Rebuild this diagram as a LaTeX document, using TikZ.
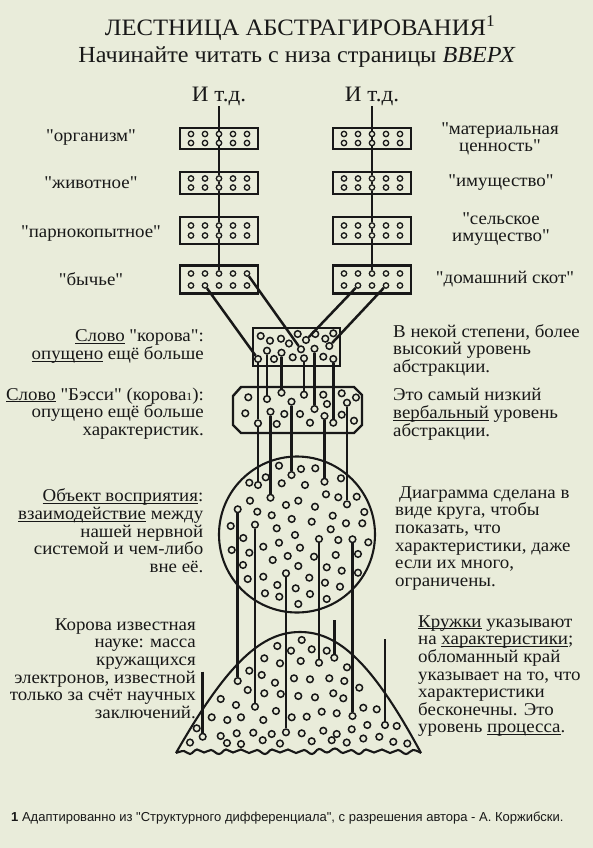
\documentclass[tikz,border=0pt]{standalone}
\usepackage{fontspec}
\setmainfont{Liberation Serif}[FakeStretch=1.05,Ligatures=TeXOff]
\newfontfamily\notefont{Liberation Sans}[Ligatures=TeXOff]
\usepackage{tikz}
\definecolor{paper}{RGB}{233,236,218}
\definecolor{ink}{RGB}{24,24,24}
\newcommand{\lblstrut}{\rule{0pt}{13pt}}
\newcommand{\ulword}[1]{\underline{\smash{#1}}}
\tikzset{
box/.style={draw=ink,line width=2.4pt,minimum width=78,inner sep=0pt},
bdot/.style={circle,draw=ink,line width=1.3pt,fill=paper,minimum size=5.4,inner sep=0pt},
dot/.style={circle,draw=ink,line width=1.5pt,fill=paper,minimum size=6.6,inner sep=0pt},
wire/.style={draw=ink,line width=2.5pt},
outline/.style={draw=ink,line width=2.1pt},
lbl/.style={inner sep=0pt,text=ink,font={\fontsize{18}{17.6}\selectfont}},
}
\begin{document}
\begin{tikzpicture}[x=1pt,y=-1pt]
\fill[paper] (0,0) rectangle (593,848);
\useasboundingbox (0,0) rectangle (593,848);
\node[lbl,anchor=base,font={\fontsize{23.5}{26}\selectfont}] (title) at (300,36) {ЛЕСТНИЦА АБСТРАГИРОВАНИЯ\textsuperscript{1}};
\node[lbl,anchor=base,font={\fontsize{23}{26}\selectfont}] (subtitle) at (297,63) {Начинайте читать с низа страницы \textit{ВВЕРХ}};
\node[lbl,anchor=base,font={\fontsize{22}{26}\selectfont}] (etcL) at (219,102) {И т.д.};
\node[lbl,anchor=base,font={\fontsize{22}{26}\selectfont}] (etcR) at (372,102) {И т.д.};

% ladders of boxes
\foreach \b/\y/\h/\d in {1/138.5/21/4.5,2/183/22/4.5,3/230.5/27/5,4/279.5/28/6} {
\node[box,minimum height=\h] (LB\b) at (219,\y) {};
\node[box,minimum height=\h] (RB\b) at (372,\y) {};
\foreach \c/\dx in {1/-28,2/-14,3/0,4/14,5/28} {
\node[bdot] (L\b-1-\c) at (219+\dx,\y-\d) {};
\node[bdot] (L\b-2-\c) at (219+\dx,\y+\d) {};
\node[bdot] (R\b-1-\c) at (372+\dx,\y-\d) {};
\node[bdot] (R\b-2-\c) at (372+\dx,\y+\d) {};
}
}
\foreach \s in {L,R} {
\draw[wire] (etc\s) -- (\s1-1-3);
\foreach \b [evaluate=\b as \n using int(\b+1)] in {1,2,3} {
\draw[wire] (\s\b-1-3) -- (\s\b-2-3) (\s\b-2-3) -- (\s\n-1-3);
}
}

\node[lbl,anchor=base] (orgL) at (91,142) {"организм"};
\node[lbl,anchor=base] (aniL) at (91,188) {"животное"};
\node[lbl,anchor=base] (ungL) at (91,237.5) {"парнокопытное"};
\node[lbl,anchor=base] (bovL) at (91,285) {"бычье"};
\node[lbl,anchor=north,align=center] (valR) at (500,121) {\lblstrut"материальная\\ценность"};
\node[lbl,anchor=base] (propR) at (501,186.7) {"имущество"};
\node[lbl,anchor=north,align=center] (farmR) at (501,211) {\lblstrut"сельское\\имущество"};
\node[lbl,anchor=base] (cattleR) at (505,283.3) {"домашний скот"};

% word "cow"
\node[box,minimum width=87,minimum height=38] (cowbox) at (296.5,347) {};
\foreach \x/\y [count=\i] in {260.7/336,270/340.7,281/338.7,289/343.5,297.7/334,315.3/334,325.3/338.7,333.3/333.3,274/359,292.7/357.3,323.3/356.7}
\node[dot] (cw\i) at (\x,\y) {};
\node[dot] (cA) at (258,359) {};
\node[dot] (cB) at (301,349.3) {};
\node[dot] (cC) at (306,340) {};
\node[dot] (cD) at (329.3,346) {};
\node[dot] (cE) at (267,350.7) {};
\node[dot] (cF) at (281.5,352.7) {};
\node[dot] (cG) at (304,358.3) {};
\node[dot] (cH) at (314.5,348.7) {};
\node[dot] (cI) at (333.3,359) {};

% word "Bessie"
\draw[outline,line width=2.4pt] (241,387) -- (354,387) -- (362,395) -- (362,425) -- (354,433) -- (241,433) -- (233,425) -- (233,396) -- cycle;
\foreach \x/\y [count=\i] in {248.3/397.3,323.3/394.7,341.7/393.3,356/397.5,245.3/413.3,284.3/414,300/414,327/404,341.7/414.7,276.7/424,310/422.7,354/420.7}
\node[dot] (bs\i) at (\x,\y) {};
\node[dot] (bA) at (258,423.3) {};
\node[dot] (bE) at (267,399) {};
\node[dot] (bF) at (281.5,392.7) {};
\node[dot] (bG) at (304,394.7) {};
\node[dot] (bH) at (314.5,409) {};
\node[dot] (bI) at (333.3,422.7) {};
\node[dot] (bJ) at (270.5,411.7) {};
\node[dot] (bK) at (291.5,401.7) {};
\node[dot] (bL) at (324.5,416) {};
\node[dot] (bM) at (347,402.7) {};

% object
\node[circle,draw=ink,line width=2.1pt,minimum size=156,inner sep=0pt] (percept) at (297,534.5) {};
\foreach \x/\y [count=\i] in {279/465.7,301/469,315.3/468.3,341/478.3,265.7/477.3,249.3/482.7,281.7/483.3,305/485,250/500.7,298.3/500.7,286/505,315/506.7,326/494.3,338.3/497.3,356.7/496.7,257.3/511.7,271.7/515.3,291.7/519,311.7/521.7,332.7/515.7,364.3/512,230.7/526,276.7/528.3,295/535,330.7/529.3,346/523.3,362.3/523.3,243.3/538,338.3/540,368.3/542.3,231.7/550,249.3/552.7,263.3/546.7,279/542.7,300/547.7,314/556.7,287.7/556,335.7/555,358/554,243/565,272.7/560,298.3/566,326.7/567.3,341.7/570.7,358/572.7,247.7/579,263.3/576.7,309.3/577.7,325/582.7,340/586.7,277.3/585,295.7/588.3,265/593.3,279.3/596.7,310/594,326.7/599,298.3/604}
\node[dot] (pc\i) at (\x,\y) {};
\node[dot] (pA) at (258,485) {};
\node[dot] (pJ) at (270.5,497.7) {};
\node[dot] (pK) at (291.5,475) {};
\node[dot] (pL) at (324.5,481.7) {};
\node[dot] (pM) at (347,504.3) {};
\node[dot] (q1) at (237.7,509.3) {};
\node[dot] (q2) at (255,524.7) {};
\node[dot] (q3) at (286,573.3) {};
\node[dot] (q4) at (319,539) {};
\node[dot] (q5) at (352.5,539.3) {};

% event level
\draw[outline] (176,753) .. controls (228,662) and (262,632) .. (300,632) .. controls (338,632) and (372,662) .. (421,753);
\draw[outline] plot[smooth,tension=0.7] coordinates {(176,753) (184,751) (190,754) (197,749.5) (204,752.5) (211,750) (219,754) (226,749.5) (233,752.5) (241,749.5) (249,753) (257,750) (265,754) (272,749.5) (280,752.5) (288,749.5) (296,753) (304,750) (312,754) (319,749) (327,752.5) (335,748.5) (343,753) (351,750) (359,754) (366,749.5) (374,752.5) (382,749.5) (390,753) (398,750) (406,754) (413,750) (421,753)};
\foreach \x/\y [count=\i] in {301.7/640,277.3/646,291/650.7,311.7/649.3,326.7/650.7,264.3/658.3,280/663.3,300.7/661,347/667.3,249.3/670.7,261.7/675,275/682.7,294/678.3,310/679.3,329.3/678.3,344.3/681,359.3/687.7,247.7/690,264.3/693.3,280.7/694,298.3/696,315/697.3,333.3/693.3,343.3/698.3,220.7/699,236/705,276/711,291.7/717.3,306.7/716.7,321.7/711.7,336.7/713.3,363.3/707.7,376.7/709.3,211.7/717.3,227.3/720,241/717.3,263.3/720,301.7/733.3,271.7/734,253.3/732.7,236.7/733.3,220.7/736,196.7/728.3,323.3/730.7,336.7/734,351.7/729.3,367.3/725,396.7/726,190/742.5,227/743,241/744,262.7/740.2,280/743.5,311.7/741.2,331.7/740.2,346.7/742.5,363.3/738.5,379.3/736.8,393.3/741.8,407.3/743.5}
\node[dot] (mn\i) at (\x,\y) {};
\node[dot] (m1) at (237.7,681) {};
\node[dot] (m2) at (255,706.7) {};
\node[dot] (m3) at (286,732.3) {};
\node[dot] (m4) at (319,662.7) {};
\node[dot] (m5) at (352.5,716) {};
\node[dot] (mF1) at (202.7,736.7) {};
\node[dot] (mF2) at (334.3,657.7) {};
\node[dot] (mF3) at (385,725) {};
\coordinate (f1) at (202.7,671.7);
\coordinate (f2) at (334.3,620);
\coordinate (f3) at (385,639.3);

% connections
\draw[wire] (L4-2-2) -- (cA);
\draw[wire] (L4-1-5) -- (cB);
\draw[wire] (R4-2-2) -- (cC);
\draw[wire] (R4-2-4) -- (cD);
\draw[wire] (cA) -- (bA) (bA) -- (pA);
\foreach \u/\v in {cE/bE,cF/bF,cG/bG,cH/bH,cI/bI,bJ/pJ,bK/pK,bL/pL,bM/pM,q1/m1,q2/m2,q3/m3,q4/m4,q5/m5,f1/mF1,f2/mF2,f3/mF3}
\draw[wire] (\u) -- (\v);

% notes
\node[lbl,anchor=north east,align=right] (wordCow) at (204,328.7) {\lblstrut\ulword{Слово} "корова":\\\ulword{опущено} ещё больше};
\node[lbl,anchor=north east,align=right] (wordBess) at (204,387) {\lblstrut\ulword{Слово} "Бэсси" (корова{\fontsize{11}{11}\selectfont 1}):\\опущено ещё больше\\характеристик.};
\node[lbl,anchor=north east,align=right] (objL) at (203.5,488.7) {\lblstrut\ulword{Объект восприятия}:\\\ulword{взаимодействие} между\\нашей нервной\\системой и чем-либо\\вне её.};
\node[lbl,anchor=north east,align=right] (sciL) at (196,617) {\lblstrut Корова известная\\науке: масса\\кружащихся\\электронов, известной\\только за счёт научных\\заключений.};
\node[lbl,anchor=north west,align=left] (highR) at (393,324) {\lblstrut В некой степени, более\\высокий уровень\\абстракции.};
\node[lbl,anchor=north west,align=left] (lowR) at (393,387.7) {\lblstrut Это самый низкий\\\ulword{вербальный} уровень\\абстракции.};
\node[lbl,anchor=north west,align=left] (circR) at (395,485) {\lblstrut\hspace*{4pt}Диаграмма сделана в\\виде круга, чтобы\\показать, что\\характеристики, даже\\если их много,\\ограничены.};
\node[lbl,anchor=north west,align=left] (procR) at (418,614) {\lblstrut\ulword{Кружки} указывают\\на \ulword{характеристики};\\обломанный край\\указывает на то, что\\характеристики\\бесконечны. Это\\уровень \ulword{процесса}.};
\node[anchor=base west,inner sep=0pt,text=ink,font={\notefont\fontsize{13}{15}\selectfont}] (note) at (11,821.7) {\textbf{1} Адаптированно из "Структурного дифференциала", с разрешения автора - А. Коржибски.};
\end{tikzpicture}
\end{document}
